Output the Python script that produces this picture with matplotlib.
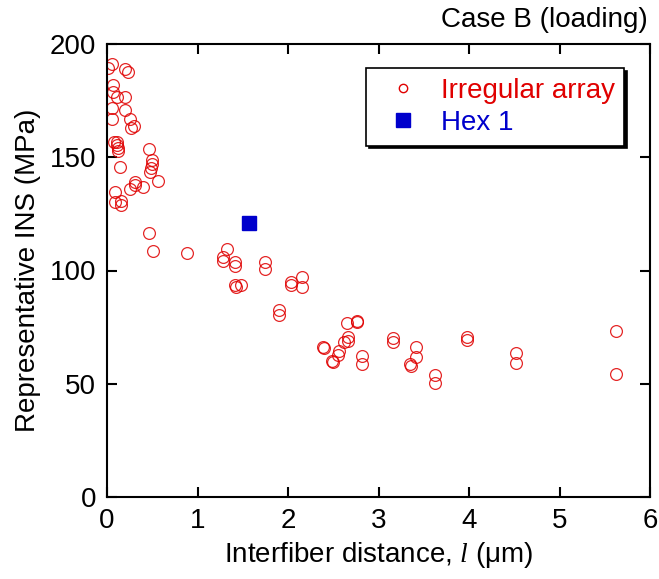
import matplotlib
matplotlib.use('Agg')
import matplotlib.pyplot as plt
from matplotlib.lines import Line2D

plt.rcParams['font.family'] = ['Liberation Sans', 'DejaVu Sans']
plt.rcParams['mathtext.fontset'] = 'custom'
plt.rcParams['mathtext.it'] = 'Liberation Serif:italic'
plt.rcParams['mathtext.rm'] = 'Liberation Sans'

# irregular array: interfiber distance (um) vs representative INS (MPa)
irr_x = [0.01, 0.06, 0.20, 0.23, 0.07, 0.07, 0.11, 0.20, 0.06, 0.20,
         0.06, 0.25, 0.26, 0.30, 0.08, 0.11, 0.11, 0.12, 0.12, 0.46,
         0.50, 0.50, 0.49, 0.47, 0.14, 0.56, 0.31, 0.31, 0.25, 0.40,
         0.09, 0.09, 0.15, 0.15, 0.46, 0.51,
         0.88, 1.33, 1.28, 1.28, 1.41, 1.41, 1.41, 1.48, 1.42, 1.75,
         1.75, 2.03, 2.03, 2.16, 2.16, 1.90, 1.90,
         2.39, 2.40, 2.49, 2.50, 2.56, 2.55, 2.65, 2.76, 2.76, 2.66,
         2.66, 2.62, 2.82, 2.82, 3.16, 3.16, 3.41, 3.41, 3.35, 3.36,
         3.62, 3.62, 3.98, 3.98, 4.52, 4.52, 5.62, 5.62]
irr_y = [189.2, 191.0, 188.8, 187.6, 181.9, 179.0, 176.7, 176.7, 171.6, 170.9,
         166.8, 166.8, 162.8, 163.8, 156.9, 156.9, 155.4, 154.0, 152.9, 153.6,
         148.8, 147.0, 145.1, 143.6, 145.8, 139.6, 139.2, 137.7, 135.8, 136.7,
         134.8, 130.4, 130.8, 128.9, 116.7, 108.6,
         107.6, 109.5, 106.0, 104.2, 103.6, 102.1, 93.6, 93.6, 92.8, 103.9,
         100.7, 95.0, 93.6, 97.3, 92.6, 82.6, 80.4,
         66.4, 66.0, 60.0, 59.6, 64.6, 62.7, 76.7, 77.7, 77.1, 70.8,
         69.0, 68.4, 62.3, 58.7, 70.0, 68.6, 66.4, 62.0, 58.7, 58.0,
         53.9, 50.5, 70.8, 69.3, 63.4, 59.0, 73.3, 54.2]

hex_x = [1.57]
hex_y = [120.8]

red = '#e00000'
blue = '#0000cc'

fig = plt.figure(figsize=(6.59, 5.79), dpi=100)
ax = fig.add_axes([107/659, 1-497/579, 543/659, 453/579])

ax.plot(irr_x, irr_y, 'o', mfc='none', mec=red, ms=8.5, mew=0.9, alpha=0.85)
ax.plot(hex_x, hex_y, 's', color=blue, ms=9.5)

ax.set_xlim(0, 6)
ax.set_ylim(0, 200)
ax.set_xticks(range(0, 7))
ax.set_yticks([0, 50, 100, 150, 200])
ax.tick_params(direction='in', length=7, width=1.5, labelsize=20,
               top=True, right=True, pad=8)
for s in ax.spines.values():
    s.set_linewidth(1.5)

ax.set_xlabel('Interfiber distance, $\\mathit{l}$ (μm)', fontsize=20, labelpad=4)
ax.set_ylabel('Representative INS (MPa)', fontsize=20, labelpad=6)
fig.text(648/659, 1-20/579, 'Case B (loading)', fontsize=20,
         ha='right', va='center')

handles = [Line2D([], [], ls='none', marker='o', mfc='none', mec=red, ms=6, mew=1),
           Line2D([], [], ls='none', marker='s', color=blue, ms=10)]
leg = ax.legend(handles, ['Irregular array', 'Hex 1'], loc='upper right',
                bbox_to_anchor=(0.953, 0.947), borderaxespad=0, fontsize=20,
                fancybox=False, shadow={'color': 'black', 'alpha': 1},
                framealpha=1, edgecolor='black', handletextpad=0.35,
                borderpad=0.35, labelspacing=0.22, handlelength=2.0)
leg.get_frame().set_linewidth(1.2)
leg.get_texts()[0].set_color(red)
leg.get_texts()[1].set_color(blue)

fig.savefig('out.png', dpi=100)
